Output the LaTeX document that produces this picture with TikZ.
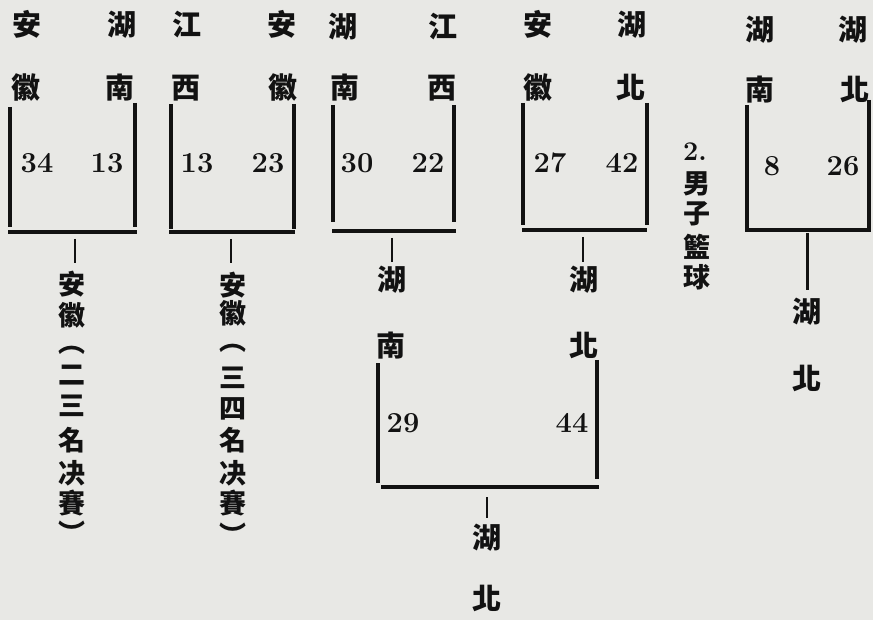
\documentclass[tikz,border=0pt]{standalone}
\usepackage{fontspec}
\newfontfamily\cjk{Noto Sans CJK TC}
\definecolor{paper}{RGB}{232,232,229}
\definecolor{ink}{RGB}{18,18,18}
\begin{document}
\begin{tikzpicture}[x=1pt,y=-1pt,
  hz/.style={font=\cjk\bfseries\fontsize{29}{29}\selectfont, inner sep=0pt, text=ink,
             text height=22.6pt, text depth=0.6pt},
  vz/.style={font=\cjk\bfseries\fontsize{27}{27}\selectfont, inner sep=0pt, text=ink,
             text height=21pt, text depth=0.5pt},
  sc/.style={font=\bfseries\fontsize{29}{29}\selectfont, inner sep=0pt, text=ink},
  bar/.style={draw=ink, line width=4pt},
  stemline/.style={draw=ink, line width=1.4pt},
  thickstem/.style={draw=ink, line width=3pt}]
\fill[paper] (0,0) rectangle (873,620);
\useasboundingbox (0,0) rectangle (873,620);

% ---------- bracket 1 : Anhui 34 - Hunan 13
\node[hz] (b1tl) at (27,25) {安};
\node[hz] (b1bl) at (26,88) {徽};
\node[hz] (b1tr) at (122,25) {湖};
\node[hz] (b1br) at (120,88) {南};
\node[sc] (b1sl) at (37,163) {34};
\node[sc] (b1sr) at (107,163) {13};
\coordinate (b1a) at (10,107); \coordinate (b1b) at (10,227);
\coordinate (b1c) at (135,103); \coordinate (b1d) at (135,227);
\coordinate (b1e) at (8,232); \coordinate (b1f) at (137,232);
\draw[bar] (b1a) -- (b1b);
\draw[bar] (b1c) -- (b1d);
\draw[bar] (b1e) -- (b1f);
\coordinate (b1s) at (75,239);

% ---------- bracket 2 : Jiangxi 13 - Anhui 23
\node[hz] (b2tl) at (187,25) {江};
\node[hz] (b2bl) at (186,88) {西};
\node[hz] (b2tr) at (282,25) {安};
\node[hz] (b2br) at (283,88) {徽};
\node[sc] (b2sl) at (197,163) {13};
\node[sc] (b2sr) at (268,163) {23};
\coordinate (b2a) at (171,104); \coordinate (b2b) at (171,229);
\coordinate (b2c) at (294,104); \coordinate (b2d) at (294,229);
\coordinate (b2e) at (169,232); \coordinate (b2f) at (295,232);
\draw[bar] (b2a) -- (b2b);
\draw[bar] (b2c) -- (b2d);
\draw[bar] (b2e) -- (b2f);
\coordinate (b2s) at (231,239);

% ---------- bracket 3 : Hunan 30 - Jiangxi 22
\node[hz] (b3tl) at (343,27) {湖};
\node[hz] (b3bl) at (345,88) {南};
\node[hz] (b3tr) at (443,27) {江};
\node[hz] (b3br) at (442,88) {西};
\node[sc] (b3sl) at (357,163) {30};
\node[sc] (b3sr) at (428,163) {22};
\coordinate (b3a) at (333,105); \coordinate (b3b) at (333,222);
\coordinate (b3c) at (454,105); \coordinate (b3d) at (454,222);
\coordinate (b3e) at (332,231); \coordinate (b3f) at (456,231);
\draw[bar] (b3a) -- (b3b);
\draw[bar] (b3c) -- (b3d);
\draw[bar] (b3e) -- (b3f);
\coordinate (b3s) at (392,238);

% ---------- bracket 4 : Anhui 27 - Hubei 42
\node[hz] (b4tl) at (538,25) {安};
\node[hz] (b4bl) at (538,88) {徽};
\node[hz] (b4tr) at (632,25) {湖};
\node[hz] (b4br) at (631,88) {北};
\node[sc] (b4sl) at (550,163) {27};
\node[sc] (b4sr) at (622,163) {42};
\coordinate (b4a) at (523,103); \coordinate (b4b) at (523,225);
\coordinate (b4c) at (647,103); \coordinate (b4d) at (647,225);
\coordinate (b4e) at (522,230); \coordinate (b4f) at (647,230);
\draw[bar] (b4a) -- (b4b);
\draw[bar] (b4c) -- (b4d);
\draw[bar] (b4e) -- (b4f);
\coordinate (b4s) at (583,237);

% ---------- bracket 5 : Hunan 8 - Hubei 26
\node[hz] (b5tl) at (760,30) {湖};
\node[hz] (b5bl) at (760,90) {南};
\node[hz] (b5tr) at (853,30) {湖};
\node[hz] (b5br) at (855,90) {北};
\node[sc] (b5sl) at (772,166) {8};
\node[sc] (b5sr) at (843,166) {26};
\coordinate (b5a) at (747,105); \coordinate (b5b) at (747,229);
\coordinate (b5c) at (869,100); \coordinate (b5d) at (869,229);
\coordinate (b5e) at (745,230); \coordinate (b5f) at (871,230);
\draw[bar] (b5a) -- (b5b);
\draw[bar] (b5c) -- (b5d);
\draw[bar] (b5e) -- (b5f);
\coordinate (b5s) at (807,233);
\node[hz] (w5a) at (807,312) {湖};
\node[hz] (w5b) at (807,378) {北};
\draw[thickstem] (b5s) -- (b5s |- 0,290);

% ---------- final : Hunan 29 - Hubei 44
\node[hz] (b6tl) at (392,280) {湖};
\node[hz] (b6bl) at (391,345) {南};
\node[hz] (b6tr) at (584,280) {湖};
\node[hz] (b6br) at (584,345) {北};
\node[sc] (b6sl) at (403,423) {29};
\node[sc] (b6sr) at (572,423) {44};
\coordinate (b6a) at (378,363); \coordinate (b6b) at (378,483);
\coordinate (b6c) at (597,360); \coordinate (b6d) at (597,479);
\coordinate (b6e) at (381,487); \coordinate (b6f) at (599,487);
\draw[bar] (b6a) -- (b6b);
\draw[bar] (b6c) -- (b6d);
\draw[bar] (b6e) -- (b6f);
\coordinate (b6s) at (487,497);
\node[hz] (w6a) at (487,537) {湖};
\node[hz] (w6b) at (487,598) {北};
\draw[stemline] (b6s) -- (b6s |- 0,518);

% stems to semifinal winners
\draw[stemline] (b3s) -- (b3s |- 0,262);
\draw[stemline] (b4s) -- (b4s |- 0,262);

% ---------- vertical columns
\foreach \c/\y [count=\i] in {安/284,徽/315,︵/342,二/374,三/405,名/440,决/473,賽/503,︶/533}
  \node[vz] (colA-\i) at (72,\y) {\c};
\foreach \c/\y [count=\i] in {安/285,徽/313,︵/340,三/377,四/408,名/440,决/473,賽/503,︶/535}
  \node[vz] (colB-\i) at (233,\y) {\c};
\draw[stemline] (b1s) -- (b1s |- 0,263);
\draw[stemline] (b2s) -- (b2s |- 0,263);

\node[font=\bfseries\fontsize{27}{27}\selectfont, inner sep=0pt, text=ink] (t2) at (695,152) {2.};
\foreach \c/\y [count=\i] in {男/183,子/213,籃/247,球/277}
  \node[vz] (title-\i) at (697,\y) {\c};
\end{tikzpicture}
\end{document}
